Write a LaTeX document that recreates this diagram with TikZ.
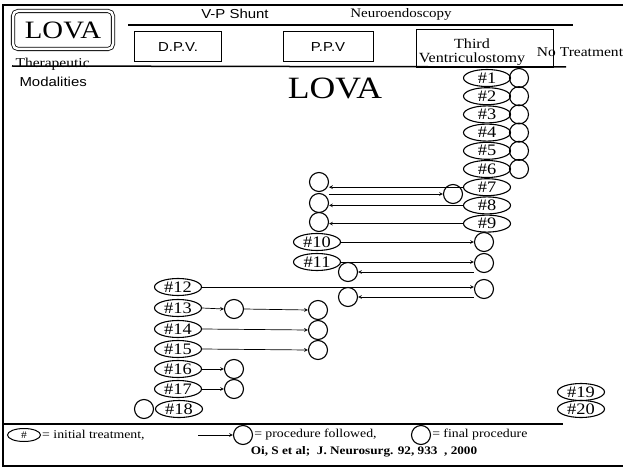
\documentclass[tikz,border=0pt]{standalone}
\usepackage{fontspec}
\usepackage{tikz}
\usetikzlibrary{shapes.geometric}
\setmainfont{Liberation Serif}[FakeStretch=1.15]
\setsansfont{Liberation Sans}[FakeStretch=1.15]
\newcommand{\fsz}[1]{\fontsize{#1}{#1}\selectfont}

\begin{document}
\begin{tikzpicture}[x=1pt,y=-1pt,>=stealth,
	case/.style={ellipse,draw,line width=1.1pt,minimum width=47pt,minimum height=17pt,inner sep=0pt,font=\fsz{16}},
	fin/.style={circle,draw,line width=1.1pt,minimum size=19pt,inner sep=0pt},
	headbox/.style={draw,line width=1pt,font=\sffamily\fsz{13}},
	flow/.style={->,line width=0.7pt}]
	\useasboundingbox (0,0) rectangle (623,468);
	% frame and header
	\draw[line width=1.8pt] (623,5) -- (3,5) -- (3,466) -- (623,466);
	\node[draw,double,double distance=2.5pt,rounded corners=5pt,line width=0.8pt,minimum width=100pt,minimum height=38pt,font=\fsz{25}] (lova) at (63,30) {LOVA};
	\node[anchor=base west,font=\fsz{13.5}] (thera) at (12,68) {Therapeutic};
	\node[anchor=base west,font=\sffamily\fsz{13}] (moda) at (16,87) {Modalities};
	\node[font=\sffamily\fsz{13}] (vp) at (235,14) {V-P Shunt};
	\node[font=\fsz{13}] (neuro) at (401,14) {Neuroendoscopy};
	\draw[line width=1.2pt] (128,25) -- (573,25);
	\node[headbox,minimum width=87pt,minimum height=30pt] (dpv) at (178,47) {D.P.V.};
	\node[headbox,minimum width=90pt,minimum height=30pt] (ppv) at (328,47) {P.P.V};
	\node[draw,line width=1pt,minimum width=137pt,minimum height=38pt] (tvbox) at (484.5,49) {};
	\node[font=\fsz{14},align=center,inner sep=0pt] (tv) at (472,52) {Third\\Ventriculostomy};
	\node[font=\fsz{13.5}] (notx) at (580,52) {No Treatment};
	\draw[line width=1.5pt] (12,66) -- (566,67);
	\node[font=\fsz{31}] (title) at (335,88) {LOVA};

	% third ventriculostomy first
	\node[case] (e1) at (487,78) {\#1};
	\node[case] (e2) at (487,96.2) {\#2};
	\node[case] (e3) at (487,114.4) {\#3};
	\node[case] (e4) at (487,132.6) {\#4};
	\node[case] (e5) at (487,150.8) {\#5};
	\node[case] (e6) at (487,169) {\#6};
	\node[case] (e7) at (487,187.2) {\#7};
	\node[case] (e8) at (487,205.4) {\#8};
	\node[case] (e9) at (487,223.6) {\#9};
	\node[fin] (f1) at (519,78) {};
	\node[fin] (f2) at (519,96.2) {};
	\node[fin] (f3) at (519,114.4) {};
	\node[fin] (f4) at (519,132.6) {};
	\node[fin] (f5) at (519,150.8) {};
	\node[fin] (f6) at (519,169) {};
	\node[fin] (l7) at (319,182) {};
	\node[fin] (l8) at (319,203) {};
	\node[fin] (l9) at (319,222) {};
	\node[fin] (a7) at (453,194) {};
	\draw[flow] (e7.west) -- (e7.west -| l7.east);
	\draw[flow] (l7.east |- a7.west) -- (a7.west);
	\draw[flow] (e8.west) -- (e8.west -| l8.east);
	\draw[flow] (e9.west) -- (e9.west -| l9.east);

	% P.P.V first
	\node[case] (e10) at (317,242) {\#10};
	\node[case] (e11) at (317,262) {\#11};
	\node[fin] (r10) at (484,242) {};
	\node[fin] (r11) at (484,263) {};
	\node[fin] (b11) at (348,272) {};
	\draw[flow] (e10.east) -- (r10.west);
	\draw[flow] (e11.east) -- (e11.east -| r11.west);
	\draw[flow] (r11.west |- b11.east) -- (b11.east);

	% D.P.V. first
	\node[case] (e12) at (178,287) {\#12};
	\node[fin] (r12) at (484,289) {};
	\node[fin] (b12) at (348,297) {};
	\draw[flow] (e12.east) -- (e12.east -| r12.west);
	\draw[flow] (r12.west |- b12.east) -- (b12.east);
	\node[case] (e13) at (178,308) {\#13};
	\node[case] (e14) at (178,329) {\#14};
	\node[case] (e15) at (178,349) {\#15};
	\node[case] (e16) at (178,369) {\#16};
	\node[case] (e17) at (178,389) {\#17};
	\node[case] (e18) at (179,409) {\#18};
	\node[fin] (c13) at (234,309) {};
	\node[fin] (d13) at (318,310) {};
	\node[fin] (d14) at (318,330) {};
	\node[fin] (d15) at (318,350) {};
	\node[fin] (c16) at (234,369) {};
	\node[fin] (c17) at (234,389) {};
	\node[fin] (g18) at (144,409) {};
	\draw[flow] (e13.east) -- (c13.west);
	\draw[flow] (c13.east) -- (d13.west);
	\draw[flow] (e14.east) -- (d14.west);
	\draw[flow] (e15.east) -- (d15.west);
	\draw[flow] (e16.east) -- (c16.west);
	\draw[flow] (e17.east) -- (c17.west);

	% no treatment
	\node[case] (e19) at (581,392) {\#19};
	\node[case] (e20) at (581,409) {\#20};

	% legend
	\draw[line width=1.5pt] (3,424) -- (563,424);
	\node[ellipse,draw,line width=1pt,minimum width=33pt,minimum height=13pt,inner sep=0pt,font=\fsz{10}] (key1) at (24,435) {\#\hspace{12pt}};
	\node[anchor=west,inner sep=1pt,font=\fsz{12}] (key1t) at (key1.east) {= initial treatment,};
	\coordinate (k2s) at (198,435);
	\node[fin] (key2) at (243,435) {};
	\draw[flow] (k2s) -- (key2.west);
	\node[anchor=west,inner sep=1pt,font=\fsz{12}] (key2t) at (key2.east) {= procedure followed,};
	\node[fin] (key3) at (421,435) {};
	\node[anchor=west,inner sep=1pt,font=\fsz{12}] (key3t) at (key3.east) {= final procedure};
	\node[font=\bfseries\fsz{11.5}] (cite) at (364,452) {Oi, S et al;\ \ J. Neurosurg. 92, 933\ \ , 2000};
\end{tikzpicture}
\end{document}
